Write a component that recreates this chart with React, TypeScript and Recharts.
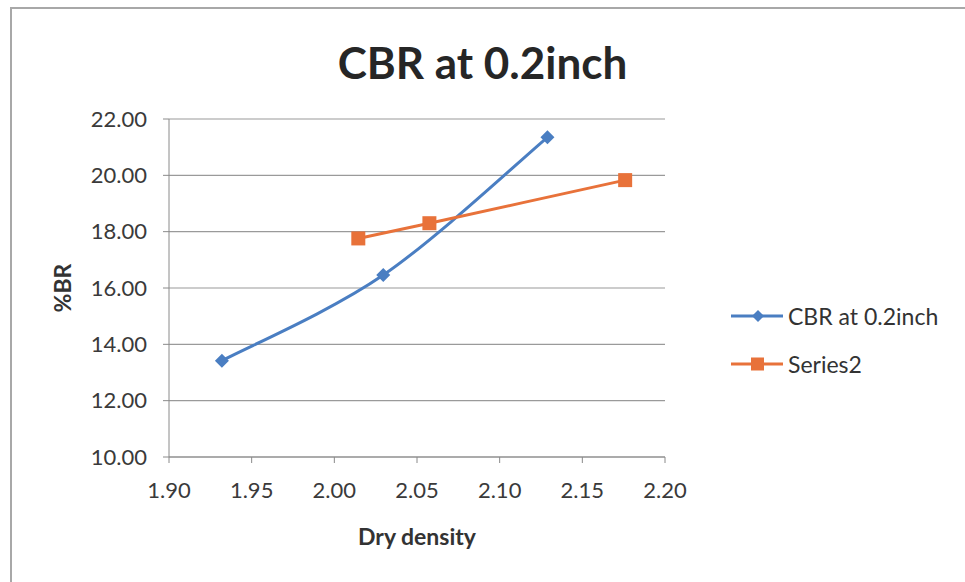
import { LineChart, Line, XAxis, YAxis, CartesianGrid } from 'recharts';

const seriesNames = ['CBR at 0.2inch', 'Series2'];
const cbrDensity = [1.932, 2.0296, 2.1289];
const cbrValues = [13.42, 16.46, 21.35];
const s2Density = [2.0145, 2.0575, 2.1759];
const s2Values = [17.76, 18.3, 19.83];
const xTicks = [1.9, 1.95, 2.0, 2.05, 2.1, 2.15, 2.2];
const yTicks = [10, 12, 14, 16, 18, 20, 22];

const COLORS = ['#4a7ec2', '#e8723a'];
const FONT = 'Lato, "Open Sans", sans-serif';

const cbrData = cbrDensity.map((x, i) => ({ x, y: cbrValues[i] }));
const s2Data = s2Density.map((x, i) => ({ x, y: s2Values[i] }));

// Excel-like smoothed line (Catmull-Rom through the points)
const smoothCurve = (context: any) => {
  let pts: number[][] = [];
  return {
    areaStart() {},
    areaEnd() {},
    lineStart() {
      pts = [];
    },
    point(x: number, y: number) {
      pts.push([+x, +y]);
    },
    lineEnd() {
      if (!pts.length) return;
      context.moveTo(pts[0][0], pts[0][1]);
      for (let i = 0; i < pts.length - 1; i++) {
        const p0 = pts[Math.max(i - 1, 0)];
        const p1 = pts[i];
        const p2 = pts[i + 1];
        const p3 = pts[Math.min(i + 2, pts.length - 1)];
        context.bezierCurveTo(
          p1[0] + (p2[0] - p0[0]) / 6,
          p1[1] + (p2[1] - p0[1]) / 6,
          p2[0] - (p3[0] - p1[0]) / 6,
          p2[1] - (p3[1] - p1[1]) / 6,
          p2[0],
          p2[1]
        );
      }
    },
  };
};

const Diamond = (props: any) => {
  const { cx, cy, fill } = props;
  if (cx == null || cy == null) return null;
  const r = 7;
  return <path d={`M${cx},${cy - r}L${cx + r},${cy}L${cx},${cy + r}L${cx - r},${cy}Z`} fill={fill} />;
};

const Square = (props: any) => {
  const { cx, cy, fill } = props;
  if (cx == null || cy == null) return null;
  const r = 7;
  return <rect x={cx - r} y={cy - r} width={2 * r} height={2 * r} fill={fill} />;
};

function LegendBox() {
  return (
    <div style={{ position: 'absolute', left: 729, top: 292, fontFamily: FONT, fontSize: 23, color: '#333' }}>
      {seriesNames.map((name, i) => (
        <div key={name} style={{ display: 'flex', alignItems: 'center', height: 48 }}>
          <svg width={56} height={20}>
            <line x1={2} y1={10} x2={54} y2={10} stroke={COLORS[i]} strokeWidth={3} />
            {i === 0 ? (
              <path d="M29,4L35,10L29,16L23,10Z" fill={COLORS[i]} />
            ) : (
              <rect x={22} y={3.5} width={13} height={13} fill={COLORS[i]} />
            )}
          </svg>
          <span style={{ marginLeft: 3 }}>{name}</span>
        </div>
      ))}
    </div>
  );
}

export default function App() {
  return (
    <div style={{ position: 'absolute', left: 0, top: 0, width: 965, height: 582, background: '#fff', overflow: 'hidden' }}>
      <div style={{ position: 'absolute', left: 10, top: 7, width: 980, height: 600, borderLeft: '2px solid #a8a8a8', borderTop: '2px solid #a8a8a8' }} />
      <div
        style={{
          position: 'absolute',
          left: 0,
          width: 965,
          top: 36,
          textAlign: 'center',
          fontFamily: FONT,
          fontWeight: 'bold',
          fontSize: 44,
          color: '#262626',
        }}
      >
        CBR at 0.2inch
      </div>
      <div style={{ position: 'absolute', left: 0, top: 0 }}>
        <LineChart width={965} height={582} margin={{ top: 119, right: 300, bottom: 85, left: 69 }}>
          <CartesianGrid horizontal vertical={false} stroke="#9a9a9a" strokeWidth={1.2} />
          <XAxis
            type="number"
            dataKey="x"
            domain={[1.9, 2.2]}
            ticks={xTicks}
            tickFormatter={(v: number) => v.toFixed(2)}
            stroke="#8a8a8a"
            tickSize={6}
            tickMargin={19}
            tick={{ fill: '#3a3a3a', fontSize: 22, fontFamily: FONT }}
            allowDataOverflow
            height={40}
          />
          <YAxis
            type="number"
            dataKey="y"
            domain={[10, 22]}
            ticks={yTicks}
            tickFormatter={(v: number) => v.toFixed(2)}
            stroke="#8a8a8a"
            tickSize={6}
            tickMargin={16}
            tick={{ fill: '#3a3a3a', fontSize: 22, fontFamily: FONT }}
            width={100}
          />
          <Line
            data={cbrData}
            dataKey="y"
            name={seriesNames[0]}
            type={smoothCurve as any}
            stroke={COLORS[0]}
            strokeWidth={3}
            dot={<Diamond fill={COLORS[0]} />}
            isAnimationActive={false}
          />
          <Line
            data={s2Data}
            dataKey="y"
            name={seriesNames[1]}
            type={smoothCurve as any}
            stroke={COLORS[1]}
            strokeWidth={3}
            dot={<Square fill={COLORS[1]} />}
            isAnimationActive={false}
          />
        </LineChart>
      </div>
      <LegendBox />
      <div
        style={{
          position: 'absolute',
          left: 317,
          width: 200,
          top: 522,
          textAlign: 'center',
          fontFamily: FONT,
          fontWeight: 'bold',
          fontSize: 23,
          color: '#333',
        }}
      >
        Dry density
      </div>
      <div
        style={{
          position: 'absolute',
          left: 62,
          top: 288,
          transform: 'translate(-50%, -50%) rotate(-90deg)',
          fontFamily: FONT,
          fontWeight: 'bold',
          fontSize: 23,
          color: '#333',
          whiteSpace: 'nowrap',
        }}
      >
        %BR
      </div>
    </div>
  );
}
